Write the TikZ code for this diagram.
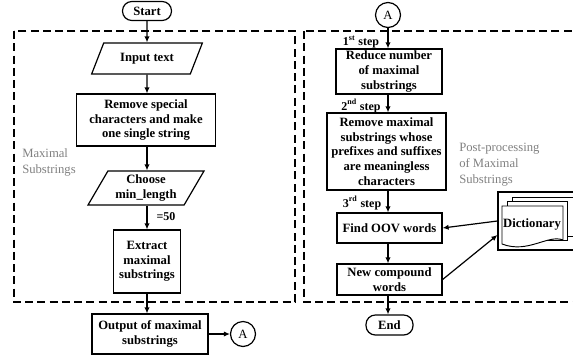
\documentclass[tikz,border=0pt]{standalone}
\usepackage{fontspec}
\setmainfont{Liberation Serif}
\usetikzlibrary{arrows.meta,shapes.geometric}

\begin{document}
\begin{tikzpicture}[x=0.75pt,y=0.75pt,yscale=-1,xscale=1,
  procbox/.style={draw, line width=0.9pt, align=center, inner sep=1pt, font=\fontsize{9.5}{11}\selectfont\bfseries},
  iobox/.style={procbox, trapezium, trapezium left angle=60, trapezium right angle=120, trapezium stretches=true},
  termbox/.style={procbox, rounded corners=7pt},
  joint/.style={draw, circle, line width=0.9pt, minimum size=18.75pt, inner sep=0pt, font=\fontsize{9.5}{11}\selectfont},
  flow/.style={line width=0.9pt, -{Latex[length=4.5pt,width=4pt]}},
  region/.style={line width=0.9pt, dash pattern=on 6pt off 3.2pt},
  steplabel/.style={inner sep=0.75pt, font=\fontsize{9}{10}\selectfont\bfseries},
  regionlabel/.style={anchor=west, align=left, inner sep=0.75pt, text=gray, font=\fontsize{9.5}{12}\selectfont}
]
\useasboundingbox (0,0) rectangle (573,358);
\clip (0,0) rectangle (573,358);

%Dashed regions
\draw [region] (14,31) rectangle (295,302) ;
\draw [region] (304,31) rectangle (590,302) ;

% Left column
\node [termbox, minimum width=36.75pt, minimum height=14.25pt] (start) at (147,11) {Start};
\node [iobox, minimum width=83.25pt, minimum height=23.25pt] (input) at (147,58.5) {Input text};
\node [procbox, minimum width=104.25pt, minimum height=39pt] (clean) at (146,120) {Remove special\\characters and make\\one single string};
\node [iobox, minimum width=87pt, minimum height=25.5pt] (minlen) at (146,188) {Choose\\min\_length};
\node [procbox, minimum width=50.25pt, minimum height=47.25pt] (extract) at (147,261.5) {Extract\\maximal\\substrings};
\node [procbox, minimum width=87pt, minimum height=30pt] (output) at (150,334) {Output of maximal\\substrings};
\node [joint] (outA) at (243,334) {A};

% Right column
\node [joint] (inA) at (388,15) {A};
\node [procbox, minimum width=79.5pt, minimum height=33.75pt] (reduce) at (389,71.5) {Reduce number\\of maximal\\substrings};
\node [procbox, minimum width=89.25pt, minimum height=57.75pt] (affix) at (386.5,151.5) {Remove maximal\\substrings whose\\prefixes and suffixes\\are meaningless\\characters};
\node [procbox, minimum width=78.75pt, minimum height=22.5pt] (oov) at (389.5,228) {Find OOV words};
\node [procbox, minimum width=78.75pt, minimum height=23.25pt] (compound) at (389.5,279.5) {New compound\\words};
\node [termbox, minimum width=35.25pt, minimum height=15pt] (end) at (389.5,325) {End};

% Dictionary
\node [draw, line width=0.9pt, minimum width=60pt, minimum height=43.5pt] (dict) at (538,221) {};
\draw [line width=0.7pt, fill=white] (512,197) -- (573,197) -- (573,236) -- (512,236) -- cycle ;
\draw [line width=0.7pt, fill=white] (507,201) -- (567,201) -- (567,240) -- (507,240) -- cycle ;
\draw [line width=0.7pt, fill=white] (502,206) -- (563,206) -- (563,240) .. controls (548,234) and (528,254) .. (502,244) -- cycle ;
\node [inner sep=0.75pt, font=\fontsize{9.5}{11}\selectfont\bfseries] (dictname) at (532,224) {Dictionary};

% Labels
\node [regionlabel] (leftname) at (21,162) {Maximal\\Substrings};
\node [regionlabel] (rightname) at (458,165) {Post-processing\\of Maximal\\Substrings};
\node [steplabel] (step1) at (361,42) {1\textsuperscript{st} step};
\node [steplabel] (step2) at (361,106) {2\textsuperscript{nd} step};
\node [steplabel] (step3) at (362,203) {3\textsuperscript{rd} step};

% Connectors
\draw [flow] (start) -- (input);
\draw [flow] (input) -- (input |- clean.north);
\draw [flow] (clean.south -| input) -- (input |- minlen.north);
\draw [flow] (minlen.south -| extract) -- (extract) node [pos=0.45, right, xshift=6pt, steplabel] (minval) {=50};
\draw [flow] (extract.south) -- (extract.south |- output.north);
\draw [flow] (output) -- (outA);
\draw [flow] (inA) -- (inA |- reduce.north);
\draw [flow] (reduce.south -| inA) -- (inA |- affix.north);
\draw [flow] (affix.south -| inA) -- (inA |- oov.north);
\draw [flow] (oov.south -| inA) -- (inA |- compound.north);
\draw [flow] (compound.south -| inA) -- (inA |- end.north);
\draw [flow] (dict.west) -- (oov.east);
\draw [flow] (compound.east) -- ([yshift=10.5pt]dict.west);

\end{tikzpicture}
\end{document}
